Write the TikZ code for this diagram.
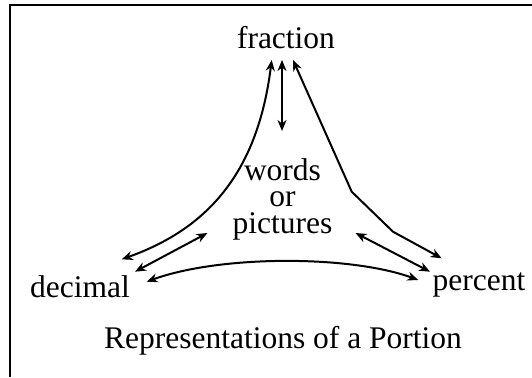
\documentclass[tikz,border=0pt]{standalone}
\usepackage{fontspec}
\setmainfont{Liberation Serif}
\usepackage{tikz}
\usetikzlibrary{arrows.meta, calc}

\begin{document}
\begin{tikzpicture}[x=1pt,y=-1pt]
      \tikzset{
            repword/.style={inner sep=0pt, anchor=base, font=\fontsize{31.5}{26.5}\selectfont},
            repmid/.style={inner sep=0pt, align=center, font=\fontsize{31.5}{26.5}\selectfont},
            reparr/.style={{Stealth[length=11pt,width=9pt,inset=3.5pt]}-{Stealth[length=11pt,width=9pt,inset=3.5pt]}, line width=2pt},
            repframe/.style={line width=2pt}
      }

      % page size
      \useasboundingbox (0,0) rectangle (532,377);

      % frame (only top and left edges show)
      \draw[repframe] (10.2,377) -- (10.2,4.7) -- (532,4.7);

      % Forms
      \node[repword] (frac) at (286,48.5) {fraction};
      \node[repword] (dec) at (80,297.5) {decimal};
      \node[repword] (pct) at (479,290.7) {percent};
      \node[repmid] (wp) at (282.5,199) {words\\or\\pictures};
      \node[repword] (title) at (283,348) {Representations of a Portion};

      % Links to fraction
      \draw[reparr] ($(frac.base)+(-14.3,11.5)$) .. controls (258,170) and (210,228) .. ($(dec.base)+(41.7,-38.2)$);
      \draw[reparr] ($(frac.base)+(-4,11.5)$) -- ($(wp.north)+(-0.5,-27)$);
      \draw[reparr] ($(frac.base)+(7,11.5)$) -- (351.7,191.7) -- (393,231.7) -- ($(pct.base)+(-37.3,-32.4)$);

      % Links to words or pictures
      \draw[reparr] ($(dec.base)+(55,-25.8)$) -- ($(wp.west)+(-25,34)$);
      \draw[reparr] ($(wp.east)+(23,34)$) -- ($(pct.base)+(-49,-19)$);

      % decimal <-> percent
      \draw[reparr] ($(dec.base)+(66.7,-15.8)$) .. controls (220,255) and (350,255) .. ($(pct.base)+(-60.7,-10.7)$);

\end{tikzpicture}
\end{document}
